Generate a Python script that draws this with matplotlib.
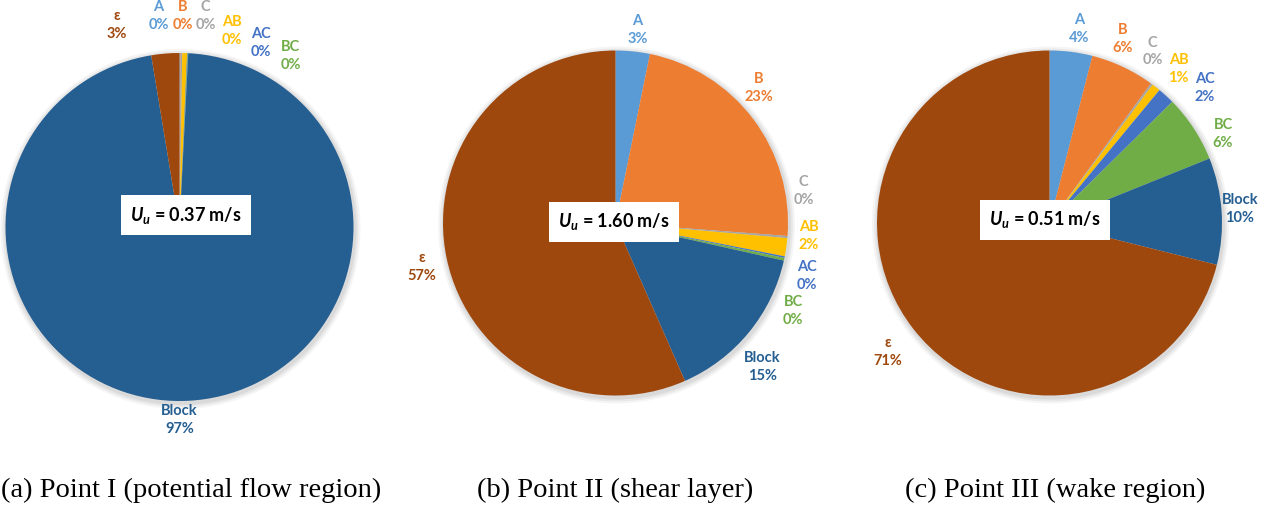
import numpy as np
import matplotlib.pyplot as plt

plt.rcParams['font.family'] = ['Lato', 'DejaVu Sans']
plt.rcParams['mathtext.fontset'] = 'custom'
plt.rcParams['mathtext.it'] = 'Lato:bold:italic'
plt.rcParams['mathtext.rm'] = 'Lato:bold'

# slice order, clockwise from 12 o'clock
categories = ['A', 'B', 'C', 'AB', 'AC', 'BC', 'Block', 'ε']
colors = ['#5B9BD5', '#ED7D31', '#A5A5A5', '#FFC000', '#4472C4', '#70AD47', '#255E91', '#9E480E']

# percentages per point
point1 = [0.05, 0.05, 0.15, 0.45, 0.05, 0.05, 96.6, 2.6]
point2 = [3.2, 23.0, 0.2, 1.7, 0.15, 0.25, 14.9, 56.6]
point3 = [4.0, 6.0, 0.2, 0.8, 1.6, 6.3, 10.0, 71.1]
speeds = ['0.37', '1.60', '0.51']
captions = ['(a) Point I (potential flow region)',
            '(b) Point II (shear layer)',
            '(c) Point III (wake region)']

# layout (pixels, y measured from top of image)
W, H = 1270, 507
centers = [(179.5, 227), (615.5, 223), (1049.5, 223)]
radii = [174, 172.5, 172.5]
# label angle (deg, clockwise from top) and distance (px) for each slice
label_ang = [
    [-5.7, 1.0, 7.0, 15.0, 24.0, 33.0, 180.0, -17.3],
    [6.5, 46.6, 80.3, 93.8, 105.4, 116.3, 134.4, 257.2],
    [8.8, 21.6, 31.0, 40.0, 48.9, 62.9, 85.8, 231.5],
]
label_dist = [
    [212, 211, 213, 203, 201, 204, 193, 212],
    [194, 197, 191, 194, 199, 198, 206, 199],
    [196, 198, 200, 201, 206, 195, 191, 207],
]
box_centers = [(186, 215), (614, 222), (1045, 220)]
caption_x = [191, 615, 1055]

fig = plt.figure(figsize=(W / 100, H / 100), dpi=100)
ax = fig.add_axes([0, 0, 1, 1])

for k, vals in enumerate([point1, point2, point3]):
    cx, cy = centers[k]
    r = radii[k]
    # soft shadow
    for s, a in [(6, 0.04), (4, 0.05), (2, 0.06)]:
        ax.add_patch(plt.Circle((cx + 1, H - cy - 2), r + s, color='black',
                                alpha=a, lw=0, zorder=0))
    ax.pie(vals, colors=colors, startangle=90, counterclock=False,
           center=(cx, H - cy), radius=r, normalize=True,
           wedgeprops=dict(linewidth=0), frame=True)
    for i, cat in enumerate(categories):
        th = np.deg2rad(label_ang[k][i])
        d = label_dist[k][i]
        tx = cx + d * np.sin(th)
        ty = H - (cy - d * np.cos(th))
        ax.text(tx, ty, f'{cat}\n{vals[i]:.0f}%', color=colors[i],
                fontsize=10.5, fontweight='bold', ha='center', va='center',
                linespacing=1.35)
    bx, by = box_centers[k]
    ax.text(bx, H - by, rf'$U_u$ = {speeds[k]} m/s', fontsize=13,
            fontweight='bold', ha='center', va='center', color='black',
            bbox=dict(boxstyle='square,pad=0.5', fc='white', ec='none'),
            zorder=5)
    ax.text(caption_x[k], H - 490, captions[k], fontsize=20.5,
            family='Liberation Serif', ha='center', va='center')

ax.set_xlim(0, W)
ax.set_ylim(0, H)
ax.set_aspect('equal')
ax.axis('off')

fig.savefig('out.png', dpi=100)
